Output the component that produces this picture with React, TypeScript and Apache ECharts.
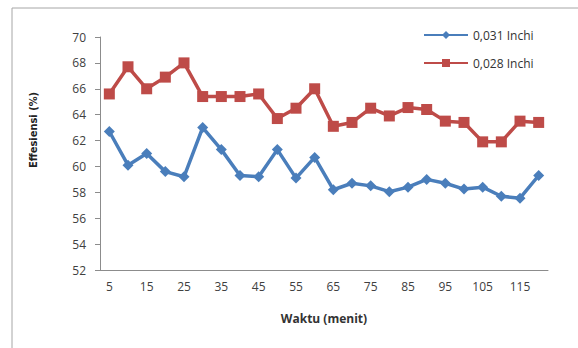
import React, { useEffect, useRef } from "react";
import * as echarts from "echarts";

const categories = ["5","10","15","20","25","30","35","40","45","50","55","60","65","70","75","80","85","90","95","100","105","110","115","120"];
const series031 = [62.7,60.1,61.0,59.6,59.2,63.0,61.3,59.3,59.2,61.3,59.1,60.7,58.2,58.7,58.5,58.05,58.4,59.0,58.7,58.25,58.4,57.7,57.55,59.3];
const series028 = [65.6,67.7,66.0,66.9,68.0,65.4,65.4,65.4,65.6,63.7,64.5,66.0,63.1,63.4,64.5,63.9,64.55,64.4,63.5,63.4,61.9,61.9,63.5,63.4];
const seriesNames = ["0,031 Inchi", "0,028 Inchi"];
const yTitle = "Effesiensi (%)";
const xTitle = "Waktu (menit)";

export default function App() {
  const ref = useRef<HTMLDivElement>(null);
  useEffect(() => {
    if (!ref.current) return;
    const chart = echarts.init(ref.current, null, { renderer: "svg" });
    const font = "'Open Sans', 'Liberation Sans', sans-serif";
    chart.setOption({
      animation: false,
      backgroundColor: "#ffffff",
      textStyle: { fontFamily: font },
      graphic: [
        {
          type: "rect",
          shape: { x: 12, y: 8, width: 700, height: 500 },
          style: { fill: "none", stroke: "#a6a6a6", lineWidth: 1 },
          silent: true,
        },
        {
          type: "text",
          x: 33,
          y: 130,
          rotation: Math.PI / 2,
          style: {
            text: yTitle,
            fontSize: 11,
            fontWeight: "bold",
            fill: "#222",
            fontFamily: "'DejaVu Sans Condensed', 'Liberation Sans Narrow', sans-serif",
            align: "center",
            verticalAlign: "middle",
          },
          silent: true,
        },
      ],
      legend: {
        orient: "vertical",
        left: 418,
        top: 24,
        itemGap: 16,
        itemWidth: 44,
        itemHeight: 10,
        textStyle: { fontSize: 12, color: "#333", fontFamily: font },
        data: seriesNames,
      },
      grid: { left: 100, right: 30, top: 37, bottom: 78 },
      xAxis: {
        type: "category",
        data: categories,
        boundaryGap: true,
        name: xTitle,
        nameLocation: "middle",
        nameGap: 42,
        nameTextStyle: { fontSize: 12, fontWeight: "bold", color: "#333", fontFamily: font },
        axisLine: { lineStyle: { color: "#8c8c8c", width: 1 } },
        axisTick: { show: false },
        axisLabel: { interval: 1, fontSize: 12, color: "#404040", margin: 10, fontFamily: font },
      },
      yAxis: {
        type: "value",
        min: 52,
        max: 70,
        interval: 2,
        axisLine: { show: true, lineStyle: { color: "#8c8c8c", width: 1 } },
        axisTick: { show: true, length: 5, lineStyle: { color: "#8c8c8c" } },
        axisLabel: { fontSize: 12, color: "#404040", margin: 14, fontFamily: font },
        splitLine: { show: false },
      },
      series: [
        {
          name: seriesNames[0],
          type: "line",
          data: series031,
          symbol: "diamond",
          symbolSize: 11,
          lineStyle: { color: "#4a7ebb", width: 3.5 },
          itemStyle: { color: "#4a7ebb" },
        },
        {
          name: seriesNames[1],
          type: "line",
          data: series028,
          symbol: "rect",
          symbolSize: 11,
          lineStyle: { color: "#be4b48", width: 3.5 },
          itemStyle: { color: "#be4b48" },
        },
      ],
    });
    return () => chart.dispose();
  }, []);
  return <div ref={ref} style={{ position: "absolute", left: 0, top: 0, width: 578, height: 348 }} />;
}
